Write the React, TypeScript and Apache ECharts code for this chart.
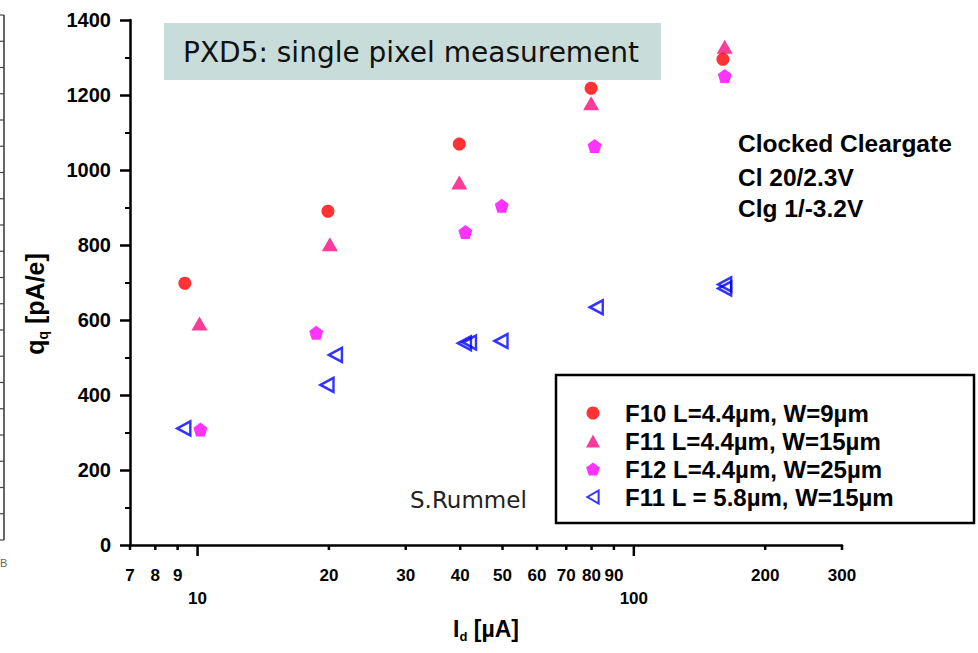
import React, { useEffect, useRef } from "react";
import * as echarts from "echarts";

// ---- data ----
const seriesNames = [
  "F10 L=4.4µm, W=9µm",
  "F11 L=4.4µm, W=15µm",
  "F12 L=4.4µm, W=25µm",
  "F11 L = 5.8µm, W=15µm",
];
const f10X = [9.35, 19.9, 39.8, 79.8, 160];
const f10Y = [698, 890, 1069, 1218, 1295];
const f11X = [10.1, 20.1, 39.8, 79.8, 161.5];
const f11Y = [591, 802, 967, 1178, 1329];
const f12X = [10.15, 18.7, 41.1, 49.8, 81.3, 161.6];
const f12Y = [308, 566, 835, 905, 1064, 1251];
const f11bX = [9.3, 19.8, 20.7, 40.9, 42.0, 49.6, 82.0, 161.5, 161.5];
const f11bY = [311, 427, 507, 538, 540, 544, 634, 695, 684];

const xTickValues = [7, 8, 9, 10, 20, 30, 40, 50, 60, 70, 80, 90, 100, 200, 300];
const xMajorTicks = [10, 100];
const infoLines = ["Clocked Cleargate", "Cl 20/2.3V", "Clg 1/-3.2V"];
const titleText = "PXD5: single pixel measurement";
const authorText = "S.Rummel";

const zip = (xs: number[], ys: number[]) => xs.map((x, i) => [x, ys[i]]);

const PENTAGON =
  "path://M0,-1 L0.951,-0.309 L0.588,0.809 L-0.588,0.809 L-0.951,-0.309 Z";
const LEFT_TRI = "path://M0,5 L8.66,0 L8.66,10 Z";

const BOLD = "Liberation Sans";

export default function App() {
  const ref = useRef<HTMLDivElement>(null);
  useEffect(() => {
    document.body.style.margin = "0";
    if (!ref.current) return;
    const chart = echarts.init(ref.current, undefined, { renderer: "svg" });

    const sliverTicks: any[] = [];
    for (let k = 0; k <= 20; k++) {
      const y = 15 + k * 26.25;
      sliverTicks.push({
        type: "line",
        shape: { x1: 0, y1: y, x2: 4, y2: y },
        style: { stroke: "#444", lineWidth: 1.2 },
      });
    }

    const richFor = (size: number, sub: number) => ({
      a: { fontSize: size, fontWeight: "bold", fontFamily: BOLD, color: "#000", lineHeight: size + 5 },
      s: { fontSize: sub, fontWeight: "bold", fontFamily: BOLD, color: "#000", lineHeight: sub, verticalAlign: "bottom" },
    });

    chart.setOption({
      animation: false,
      backgroundColor: "#ffffff",
      grid: { left: 130, right: 136, top: 20, bottom: 108, containLabel: false },
      xAxis: {
        type: "log",
        logBase: 10,
        min: 7,
        max: 300,
        axisLine: { show: true, lineStyle: { color: "#000", width: 2.5 } },
        axisTick: { show: false },
        axisLabel: { show: false },
        splitLine: { show: false },
        minorTick: { show: false },
        name: "{a|I}{s|d}{a| [µA]}",
        nameLocation: "middle",
        nameGap: 70,
        nameTextStyle: { rich: richFor(23, 13) },
      },
      yAxis: {
        type: "value",
        min: 0,
        max: 1400,
        interval: 200,
        axisLine: { show: true, lineStyle: { color: "#000", width: 2.5 } },
        axisTick: { show: true, length: 10, lineStyle: { color: "#000", width: 2.5 } },
        minorTick: { show: true, splitNumber: 2, length: 5, lineStyle: { color: "#000", width: 2 } },
        splitLine: { show: false },
        axisLabel: {
          fontSize: 20,
          fontWeight: "bold",
          fontFamily: BOLD,
          color: "#000",
          margin: 19,
          formatter: (v: number) => String(v),
        },
        name: "{a|q}{s|q}{a| [pA/e]}",
        nameLocation: "middle",
        nameRotate: 90,
        nameGap: 80,
        nameTextStyle: { rich: richFor(25, 14), padding: [0, 43, 0, 0] },
      },
      legend: {
        data: [
          { name: seriesNames[0] },
          { name: seriesNames[1] },
          { name: seriesNames[2] },
          { name: seriesNames[3], icon: LEFT_TRI },
        ],
        orient: "vertical",
        left: 586,
        top: 401,
        padding: 0,
        itemWidth: 14,
        itemHeight: 13,
        itemGap: 4,
        symbolKeepAspect: true,
        textStyle: {
          fontSize: 24,
          fontWeight: "bold",
          fontFamily: BOLD,
          color: "#000",
          padding: [0, 0, 0, 20],
        },
      },
      graphic: [
        {
          type: "rect",
          shape: { x: 164, y: 23, width: 497, height: 57 },
          style: { fill: "#c8dcd9" },
          z: 1,
        },
        {
          type: "text",
          x: 183,
          y: 52,
          style: {
            text: titleText,
            fontSize: 28,
            fontFamily: "DejaVu Sans",
            fill: "#111",
            textVerticalAlign: "middle",
          },
          z: 2,
        },
        ...infoLines.map((t, i) => ({
          type: "text",
          x: 738,
          y: [143, 177, 208][i],
          style: {
            text: t,
            fontSize: 24.5,
            fontWeight: "bold",
            fontFamily: BOLD,
            fill: "#000",
            textVerticalAlign: "middle",
          },
        })),
        {
          type: "text",
          x: 410,
          y: 500,
          style: {
            text: authorText,
            fontSize: 23,
            fontFamily: "DejaVu Sans",
            fill: "#222",
            textVerticalAlign: "middle",
          },
        },
        {
          type: "rect",
          shape: { x: 556, y: 375, width: 418, height: 148 },
          style: { fill: "none", stroke: "#000", lineWidth: 2.5 },
        },
        {
          type: "line",
          shape: { x1: 4, y1: 15, x2: 4, y2: 540 },
          style: { stroke: "#333", lineWidth: 1.5 },
        },
        ...sliverTicks,
        {
          type: "text",
          x: 0,
          y: 563,
          style: { text: "B", fontSize: 11, fontFamily: BOLD, fill: "#666", textVerticalAlign: "middle" },
        },
      ],
      series: [
        {
          name: seriesNames[0],
          type: "scatter",
          data: zip(f10X, f10Y),
          symbol: "circle",
          symbolSize: 13,
          itemStyle: { color: "#ff0000" },
          z: 5,
        },
        {
          name: seriesNames[1],
          type: "scatter",
          data: zip(f11X, f11Y),
          symbol: "triangle",
          symbolSize: [16, 14],
          itemStyle: { color: "#f70a80" },
          z: 4,
        },
        {
          name: seriesNames[2],
          type: "scatter",
          data: zip(f12X, f12Y),
          symbol: PENTAGON,
          symbolSize: 14,
          itemStyle: { color: "#ff00ff" },
          z: 4,
        },
        {
          name: seriesNames[3],
          type: "scatter",
          data: zip(f11bX, f11bY),
          symbol: LEFT_TRI,
          symbolSize: [13, 14],
          itemStyle: { color: "rgba(0,0,0,0)", borderColor: "#0000ff", borderWidth: 2.5 },
          z: 4,
        },
        {
          type: "custom",
          name: "xticks",
          coordinateSystem: "cartesian2d",
          clip: false,
          silent: true,
          data: xTickValues.map((v) => [v, 0]),
          renderItem: (params: any, api: any) => {
            const v = api.value(0);
            const p = api.coord([v, 0]);
            const major = xMajorTicks.includes(v);
            return {
              type: "group",
              children: [
                {
                  type: "line",
                  shape: { x1: p[0], y1: p[1], x2: p[0], y2: p[1] + (major ? 11 : 5) },
                  style: { stroke: "#000", lineWidth: 2.5 },
                },
                {
                  type: "text",
                  style: {
                    text: String(v),
                    x: p[0],
                    y: p[1] + (major ? 53 : 30),
                    textAlign: "center",
                    textVerticalAlign: "middle",
                    fontSize: 17,
                    fontWeight: "bold",
                    fontFamily: BOLD,
                    fill: "#000",
                  },
                },
              ],
            };
          },
        },
      ],
    });
    return () => chart.dispose();
  }, []);
  return <div ref={ref} style={{ width: 978, height: 653 }} />;
}
